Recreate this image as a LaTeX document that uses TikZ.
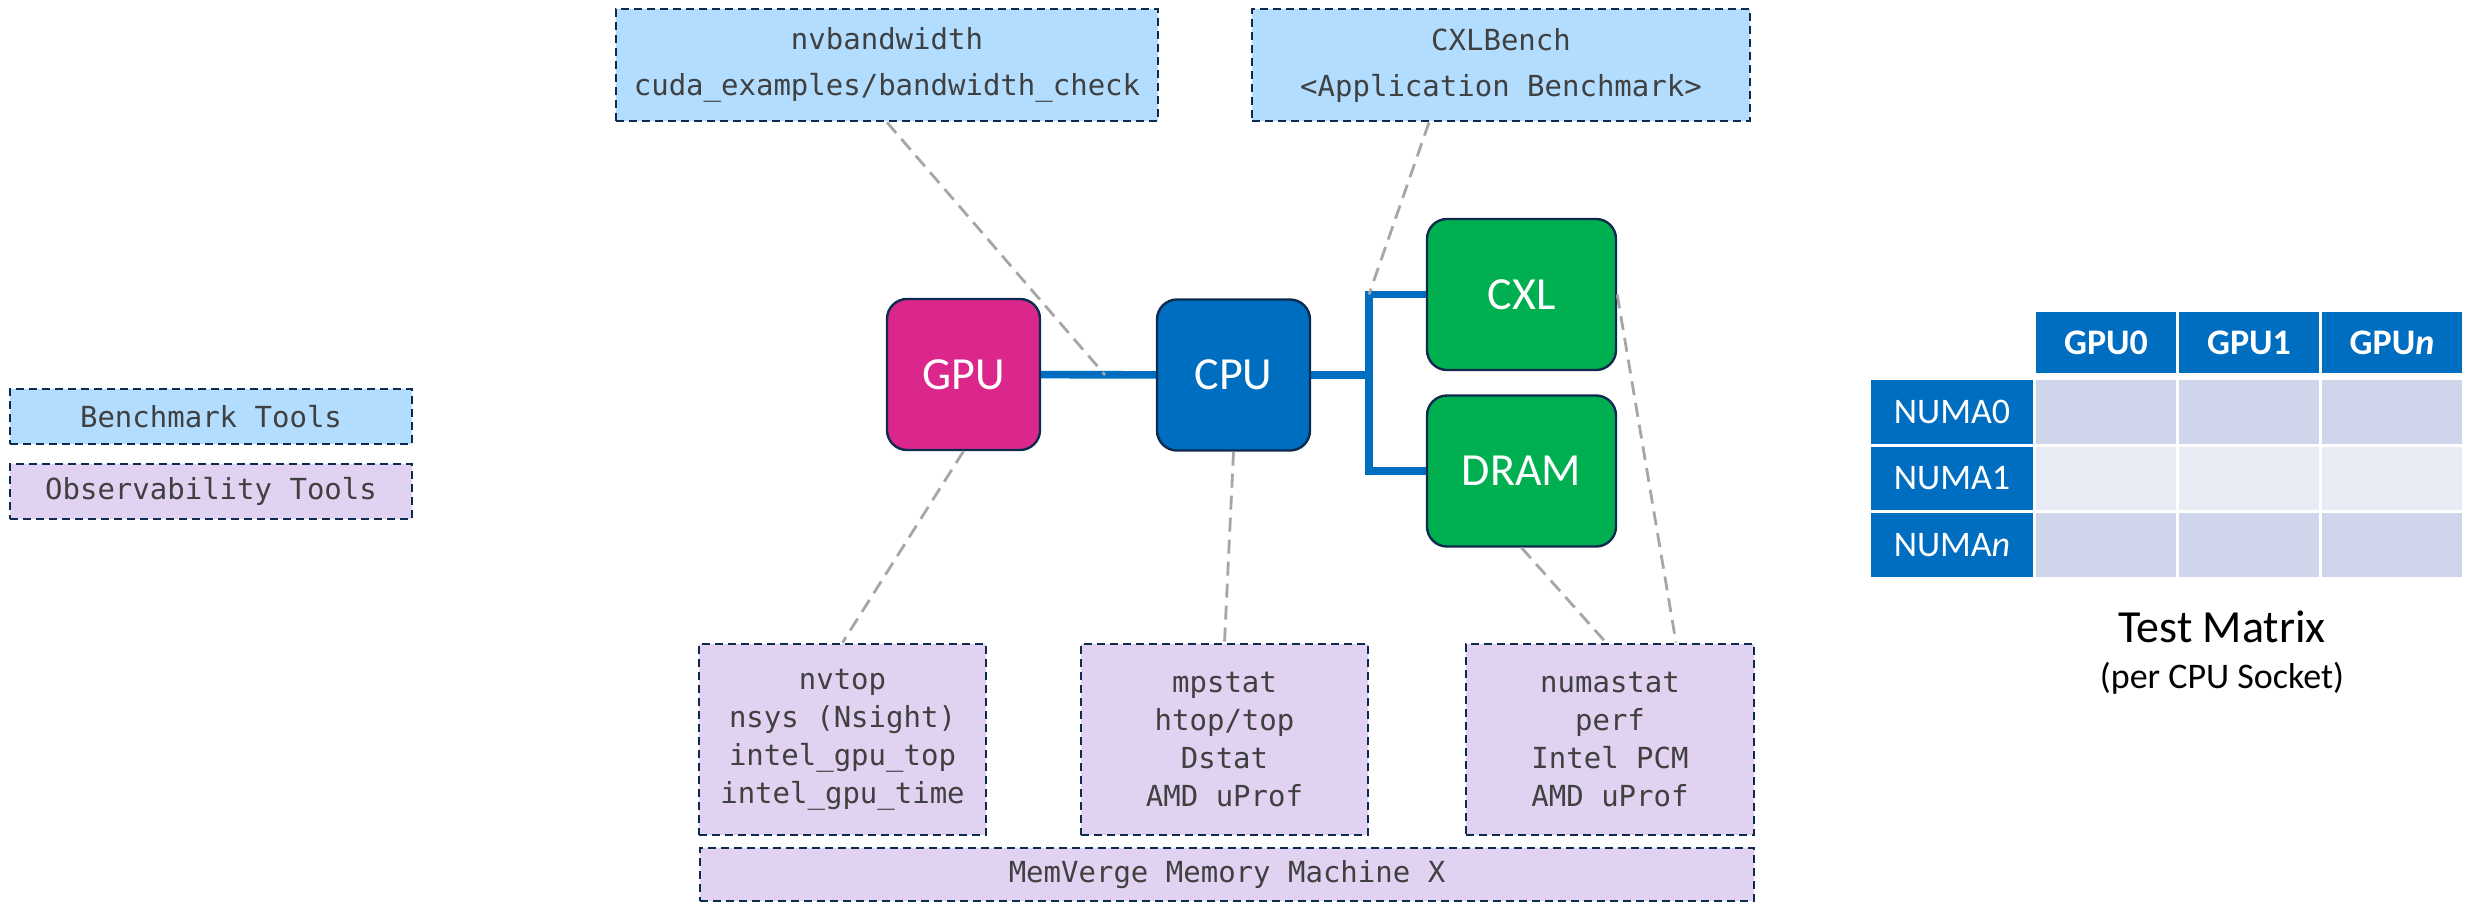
\documentclass[tikz,border=0pt]{standalone}
\usepackage{fontspec}
\setmainfont{Carlito}
\setmonofont{DejaVu Sans Mono}
\usetikzlibrary{positioning}
\definecolor{navy}{RGB}{13,43,79}
\definecolor{gpupink}{RGB}{219,39,140}
\definecolor{cpublue}{RGB}{0,110,192}
\definecolor{memgreen}{RGB}{0,176,80}
\definecolor{benchblue}{RGB}{178,221,255}
\definecolor{obslav}{RGB}{225,210,242}
\definecolor{tiegray}{RGB}{166,166,166}
\definecolor{txtgray}{RGB}{64,64,64}
\definecolor{cellA}{RGB}{207,213,234}
\definecolor{cellB}{RGB}{233,235,245}

\begin{document}
\begin{tikzpicture}[x=0.5pt,y=-0.5pt,
hw/.style={draw=navy,line width=1.2pt,rounded corners=10pt,text=white,font=\fontsize{23}{27}\selectfont,minimum width=76.5pt,minimum height=75.5pt},
tool/.style={draw=navy,line width=1.4pt,dash pattern=on 4pt off 2.5pt,align=center,text=txtgray,font=\ttfamily\fontsize{14.5}{19}\selectfont,inner sep=0pt},
bench/.style={tool,fill=benchblue,font=\ttfamily\fontsize{14.5}{23}\selectfont},
obs/.style={tool,fill=obslav},
link/.style={draw=cpublue,line width=3.8pt},
tie/.style={draw=tiegray,line width=1.4pt,dash pattern=on 7pt off 4pt},
hdr/.style={fill=cpublue,text=white,inner sep=0pt,font=\fontsize{18}{21}\selectfont},
cell/.style={inner sep=0pt,minimum width=70pt,minimum height=31.75pt}]
\useasboundingbox (0,0) rectangle (2471,904);
% hardware
\node[hw,fill=gpupink](gpu) at (963.5,374.5){GPU};
\node[hw,fill=cpublue](cpu) at (1233.5,375){CPU};
\node[hw,fill=memgreen,minimum width=94.5pt](cxl) at (1521.5,294.5){CXL};
\node[hw,fill=memgreen,minimum width=94.5pt](dram) at (1521.5,471){DRAM};
\coordinate (bus) at (1369,375);
\coordinate (gclink) at (1105,375);
\draw[link](gpu)--(cpu);
\draw[link](cpu.east)--(bus);
\draw[link](cxl.west)-|(bus)|-(dram.west);
% benchmark tools
\node[bench,minimum width=271pt,minimum height=56pt](nvbw) at (887,65){nvbandwidth\\cuda\_examples/bandwidth\_check};
\node[bench,minimum width=249pt,minimum height=56pt](cxlb) at (1501,65){CXLBench\\<Application Benchmark>};
% observability tools
\node[obs,minimum width=143.5pt,minimum height=95.5pt](nvtop) at (842.5,739.5){nvtop\\nsys (Nsight)\\intel\_gpu\_top\\intel\_gpu\_time};
\node[obs,minimum width=143.5pt,minimum height=95.5pt](mpst) at (1224.5,739.5){mpstat\\htop/top\\Dstat\\AMD uProf};
\node[obs,minimum width=144pt,minimum height=95.5pt](numa) at (1610,739.5){numastat\\perf\\Intel PCM\\AMD uProf};
\node[obs,minimum width=527pt,minimum height=26.5pt](mmx) at (1227,874.5){MemVerge Memory Machine X};
% legend
\node[bench,minimum width=201pt,minimum height=27.5pt](legb) at (211,416.5){Benchmark Tools};
\node[obs,minimum width=201pt,minimum height=27.5pt](lego) at (211,491.5){Observability Tools};
% dashed ties
\draw[tie](nvbw.south)--(gclink);
\draw[tie]([xshift=-36pt]cxlb.south)--(cxl.west-|bus);
\draw[tie](gpu.south)--(nvtop.north);
\draw[tie](cpu.south)--(mpst.north);
\draw[tie](dram.south)--([xshift=-2pt]numa.north);
\draw[tie](cxl.east)--([xshift=33pt]numa.north);
% test matrix
\foreach \t [count=\i from 0] in {GPU0,GPU1,GPU\textit{n}}
  \node[hdr,minimum width=70pt,minimum height=30.5pt,font=\fontsize{18}{21}\selectfont\bfseries](g\i) at (2106+143*\i,342.5){\t};
\foreach \r/\f [count=\j from 0] in {NUMA0/cellA,NUMA1/cellB,NUMA\textit{n}/cellA}{
  \node[hdr,minimum width=81pt,minimum height=31.75pt](n\j) at (1952,412+66.5*\j){\r};
  \foreach \i in {0,1,2} \node[cell,fill=\f](c\j\i) at (2106+143*\i,412+66.5*\j){};
}
\node[anchor=base,font=\fontsize{23}{27}\selectfont](tm) at (2222,642){Test Matrix};
\node[anchor=base,font=\fontsize{18}{21}\selectfont](tms) at (2222,688){(per CPU Socket)};
\end{tikzpicture}
\end{document}
